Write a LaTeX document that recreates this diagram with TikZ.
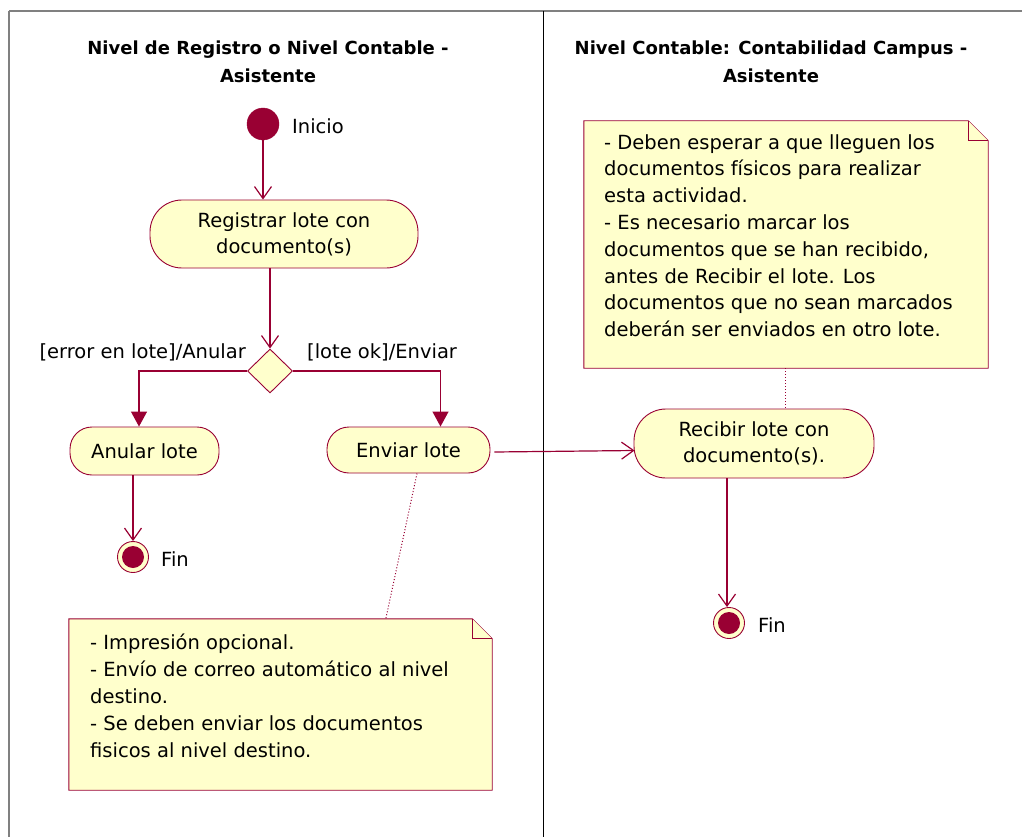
\documentclass[tikz,border=0pt]{standalone}
\usepackage{fontspec}
\setmainfont{DejaVu Sans}
\usetikzlibrary{arrows.meta,shapes.geometric,calc}
\definecolor{rosered}{HTML}{990033}
\definecolor{paleyellow}{HTML}{FFFFCC}
\definecolor{lanegray}{HTML}{808080}

\begin{document}
\begin{tikzpicture}[x=1pt,y=-1pt,
  font=\fontsize{19.5}{26}\selectfont,
  activity/.style={draw=rosered, fill=paleyellow, line width=0.9pt,
    rounded corners=22pt, inner sep=0pt, align=center},
  lanetitle/.style={font=\bfseries\fontsize{18}{28}\selectfont, align=center},
  startnode/.style={circle, fill=rosered, draw=rosered, minimum size=32pt, inner sep=0pt},
  endnode/.style={circle, fill=paleyellow, draw=rosered, line width=0.9pt,
    minimum size=31pt, inner sep=0pt,
    path picture={\fill[rosered] (path picture bounding box.center) circle (11pt);}},
  decision/.style={diamond, draw=rosered, fill=paleyellow, line width=0.9pt,
    minimum width=45pt, minimum height=44pt, inner sep=0pt},
  notearea/.style={rectangle, inner sep=0pt},
  noteborder/.style={draw=rosered, fill=paleyellow, line width=0.9pt},
  notetext/.style={align=left, inner sep=0pt, anchor=north west,
    font=\fontsize{19.5}{26.8}\selectfont},
  flow/.style={draw=rosered, line width=1.2pt,
    -{Straight Barb[length=12pt,width=17pt,line width=1.2pt]}},
  guard/.style={draw=rosered, line width=1.2pt, -{Triangle[length=15pt,width=16pt]}},
  noteline/.style={draw=rosered, line width=1pt, dash pattern=on 1pt off 2pt},
  tag/.style={inner sep=0pt}
]
\useasboundingbox (0,0) rectangle (1022,837);
\fill[white] (0,0) rectangle (1022,837);

% swimlane frame
\draw[lanegray, line width=1.6pt] (9,11) -- (1022,11);
\draw[lanegray, line width=1.6pt] (9,11) -- (9,837);
\draw[black, line width=1pt] (543,11) -- (543,837);

\node[lanetitle] (laneA) at (268,62) {Nivel de Registro o Nivel Contable -\\Asistente};
\node[lanetitle] (laneB) at (771,62) {Nivel Contable: Contabilidad Campus -\\Asistente};

% left lane
\node[startnode] (start) at (263,124) {};
\node[tag, anchor=west] (startlbl) at (292,126) {Inicio};

\node[activity, rounded corners=32pt, minimum width=268pt, minimum height=68pt] (registrar) at (284,234)
  {Registrar lote con\\documento(s)};

\node[decision] (dec) at (270,371) {};

\node[tag, anchor=east] (lblerr) at (246,352) {[error en lote]/Anular};
\node[tag, anchor=west] (lblok) at (307,352) {[lote ok]/Enviar};

\node[activity, minimum width=149pt, minimum height=48pt] (anular) at (144.5,451) {Anular lote};
\node[activity, minimum width=163pt, minimum height=46pt] (enviar) at (408.5,450) {Enviar lote};

\node[endnode] (fin1) at (133,557) {};
\node[tag, anchor=west] (fin1lbl) at (161,559) {Fin};

% right lane
\node[activity, rounded corners=32pt, minimum width=240pt, minimum height=69pt] (recibir) at (754,443.5)
  {Recibir lote con\\documento(s).};

\node[endnode] (fin2) at (729,623) {};
\node[tag, anchor=west] (fin2lbl) at (758,625) {Fin};

% notes with folded corner
\node[notearea, minimum width=404pt, minimum height=247pt] (note1) at (786,244.5) {};
\draw[noteborder] (note1.north west) -- ($(note1.north east)+(-20,0)$)
  -- ($(note1.north east)+(0,20)$) -- (note1.south east) -- (note1.south west) -- cycle;
\draw[noteborder] ($(note1.north east)+(-20,0)$) -- ($(note1.north east)+(-20,20)$)
  -- ($(note1.north east)+(0,20)$);
\node[notetext] (note1txt) at (604,134) {- Deben esperar a que lleguen los\\
documentos físicos para realizar\\
esta actividad.\\
- Es necesario marcar los\\
documentos que se han recibido,\\
antes de Recibir el lote. Los\\
documentos que no sean marcados\\
deberán ser enviados en otro lote.};

\node[notearea, minimum width=423pt, minimum height=171pt] (note2) at (280.5,704.5) {};
\draw[noteborder] (note2.north west) -- ($(note2.north east)+(-20,0)$)
  -- ($(note2.north east)+(0,20)$) -- (note2.south east) -- (note2.south west) -- cycle;
\draw[noteborder] ($(note2.north east)+(-20,0)$) -- ($(note2.north east)+(-20,20)$)
  -- ($(note2.north east)+(0,20)$);
\node[notetext] (note2txt) at (90,634) {- Impresión opcional.\\
- Envío de correo automático al nivel\\
destino.\\
- Se deben enviar los documentos\\
fisicos al nivel destino.};

% transitions
\draw[flow] (start) -- (start |- registrar.north);
\draw[flow] (registrar.south -| dec) -- (dec.north);
\draw[guard] (dec.west) -| ($(anular.north)+(-5.5,0)$);
\draw[guard] (dec.east) -| ($(enviar.north)+(32,0)$);
\draw[flow] (anular.south -| fin1) -- (fin1.north);
\draw[flow] ($(enviar.east)+(4,2)$) -- ($(recibir.west)+(1,7)$);
\draw[flow] (recibir.south -| 727,0) -- (fin2.north -| 727,0);

% note anchors
\draw[noteline] (note1.south -| 785,0) -- (recibir.north -| 785,0);
\draw[noteline] ($(enviar.south)+(8.5,0)$) -- ($(note2.north west)+(317,0)$);
\end{tikzpicture}
\end{document}
